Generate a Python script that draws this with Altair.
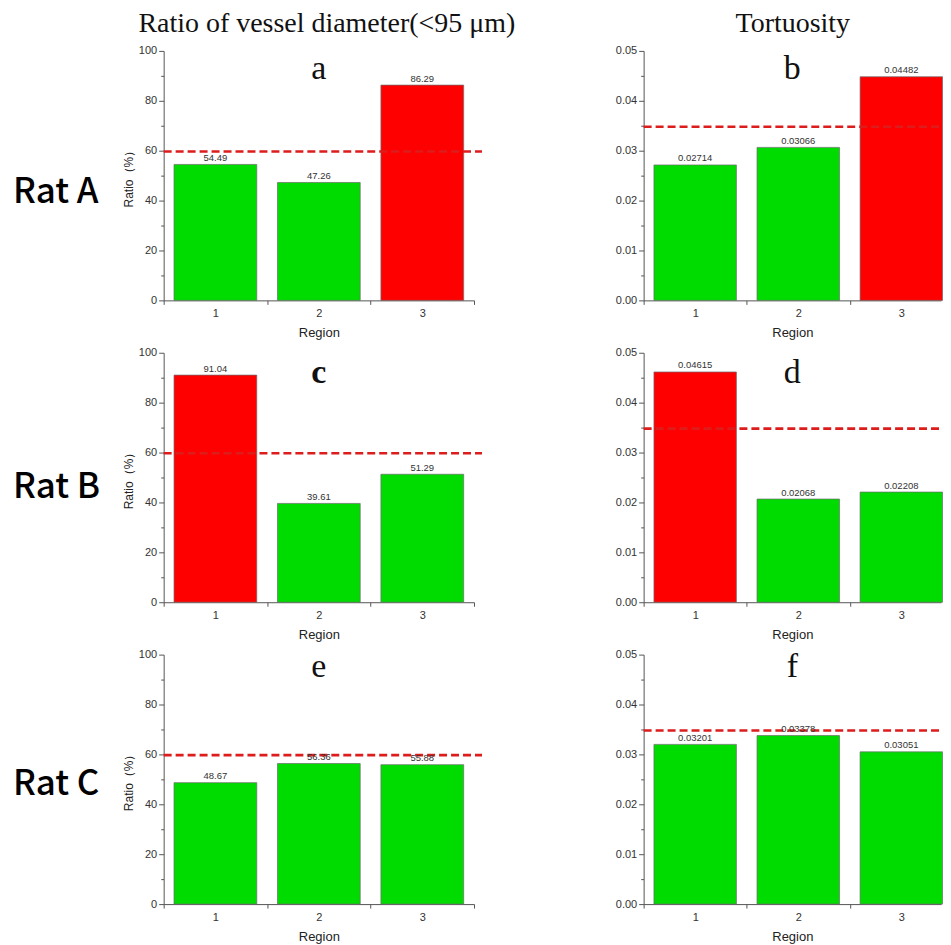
import altair as alt
import pandas as pd

# ---------------- data ----------------
regions = [1, 2, 3]
ratio_a = [54.49, 47.26, 86.29]
ratio_b = [91.04, 39.61, 51.29]
ratio_c = [48.67, 56.36, 55.88]
tort_a = [0.02714, 0.03066, 0.04482]
tort_b = [0.04615, 0.02068, 0.02208]
tort_c = [0.03201, 0.03378, 0.03051]
ratio_threshold = 59.7
tort_threshold = 0.0348
ratio_ticks = [0, 20, 40, 60, 80, 100]
ratio_minor = [10, 30, 50, 70, 90]
tort_ticks = [0, 0.01, 0.02, 0.03, 0.04, 0.05]
tort_minor = [0.005, 0.015, 0.025, 0.035, 0.045]
region_minor = [0.5, 1.5, 2.5, 3.5]
col_titles = ["Ratio of vessel diameter(<95 μm)", "Tortuosity"]
row_labels = ["Rat A", "Rat B", "Rat C"]
letters = ["a", "b", "c", "d", "e", "f"]

GREEN = "#00dc00"
RED = "#ff0000"
DASH = "#dd1c1c"
SANS = "Liberation Sans"
SERIF = "Liberation Serif"

H = 250
row_rat_y = [152, 145.5, 141]
row_letter_y = [28, 30.5, 22]


def panel(values, col, row, letter):
    left = col == 0
    W = 311 if left else 298
    xdom = [0.5, 3.5] if left else [0.5, 3.385]
    ydom = [0, 100] if left else [0, 0.05]
    thr = ratio_threshold if left else tort_threshold
    fmt = ".2f" if left else ".5f"
    yticks = ratio_ticks if left else tort_ticks
    yminor = ratio_minor if left else tort_minor
    yfmt = "d" if left else ".2f"

    df = pd.DataFrame({"Region": regions, "value": values})
    xs = alt.Scale(domain=xdom, nice=False, zero=False)
    ys = alt.Scale(domain=ydom, nice=False, zero=True)
    base = alt.Chart(df)

    yaxis = alt.Axis(values=yticks, orient="left", format=yfmt, tickSize=5,
                     labelPadding=2, titlePadding=3, titleFontSize=12)
    bars = base.transform_calculate(
        x0="datum.Region - 0.4", x1="datum.Region + 0.4"
    ).mark_bar(stroke="#6a6a6a", strokeWidth=0.7).encode(
        x=alt.X("x0:Q", scale=xs, title="Region",
                axis=alt.Axis(values=regions, ticks=False, orient="bottom",
                              labelPadding=7, titlePadding=8, titleFontSize=13,
                              format="d")),
        x2="x1:Q",
        y=alt.Y("value:Q", scale=ys, axis=yaxis,
                title="Ratio（%）" if left else None),
        y2=alt.datum(0),
        color=alt.condition(f"datum.value > {thr}", alt.value(RED), alt.value(GREEN)),
    )

    minor = base.mark_point(opacity=0).encode(
        x=alt.X("Region:Q", scale=xs, title=None,
                axis=alt.Axis(values=region_minor, labels=False, domain=False,
                              tickSize=4, orient="bottom")),
        y=alt.Y("value:Q", scale=ys, title=None,
                axis=alt.Axis(values=yminor, labels=False, domain=False,
                              tickSize=3, orient="left")),
    )

    rule = alt.Chart(pd.DataFrame({"t": [thr]})).mark_rule(
        color=DASH, strokeWidth=2.6, strokeDash=[8, 4]
    ).encode(
        y=alt.Y("t:Q", scale=ys, axis=None),
        x=alt.value(0),
        x2=alt.value(W + 8 if left else W),
    )

    vlabels = base.mark_text(
        baseline="bottom", dy=-1.5, fontSize=9.5, font=SANS, color="#333333"
    ).encode(
        x=alt.X("Region:Q", scale=xs, axis=None),
        y=alt.Y("value:Q", scale=ys, axis=None),
        text=alt.Text("value:Q", format=fmt),
    )

    letter_mark = alt.Chart(pd.DataFrame({"t": [letter]})).mark_text(
        font=SERIF, fontSize=34, baseline="alphabetic", align="center",
        color="#111111", fontWeight="bold" if letter == "c" else "normal",
    ).encode(text="t:N", x=alt.value(W / 2), y=alt.value(row_letter_y[row]))

    layers = [bars, minor, rule, vlabels, letter_mark]

    if row == 0:
        title_mark = alt.Chart(pd.DataFrame({"t": [col_titles[col]]})).mark_text(
            font=SERIF, fontSize=28, baseline="top", align="center",
            color="#111111",
        ).encode(text="t:N", x=alt.value(163.5 if left else 149.5), y=alt.value(-41))
        layers.append(title_mark)

    if left:
        rat = alt.Chart(pd.DataFrame({"t": [row_labels[row]]})).mark_text(
            font="Noto Sans CJK SC", fontSize=35, fontWeight=500,
            baseline="alphabetic", align="left", color="#000000",
        ).encode(text="t:N", x=alt.value(-151), y=alt.value(row_rat_y[row]))
        layers.append(rat)

    return alt.layer(*layers).resolve_axis(
        x="independent", y="independent"
    ).properties(width=W, height=H)


series = [(ratio_a, tort_a), (ratio_b, tort_b), (ratio_c, tort_c)]
panels = []
k = 0
for r, (rv, tv) in enumerate(series):
    panels.append(panel(rv, 0, r, letters[k]))
    panels.append(panel(tv, 1, r, letters[k + 1]))
    k += 2

chart = alt.concat(
    *panels, columns=2, spacing={"row": 52.5, "column": 170}, bounds="flush"
).properties(
    padding={"left": 5, "top": 1, "right": 0, "bottom": 0}
).configure_view(stroke=None).configure_axis(
    grid=False,
    domainColor="#555555",
    domainWidth=1,
    tickColor="#555555",
    tickWidth=1,
    labelColor="#333333",
    labelFont=SANS,
    labelFontSize=11,
    titleFont=SANS,
    titleFontWeight="normal",
    titleColor="#222222",
)

chart.save("out.html", embed_options={"renderer": "svg", "actions": False})
